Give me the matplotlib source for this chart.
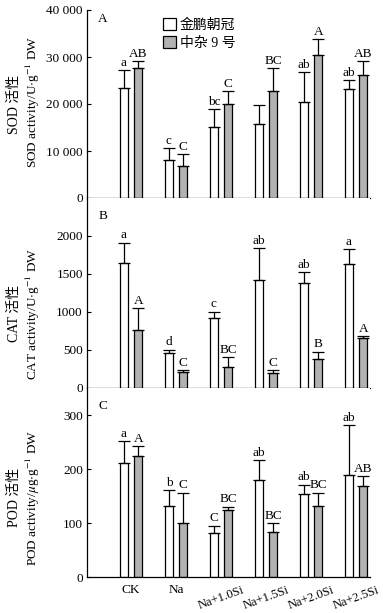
import matplotlib
matplotlib.use('Agg')
import matplotlib.pyplot as plt
import numpy as np
from matplotlib.patches import Patch

plt.rcParams['font.family'] = ['Liberation Serif', 'Noto Sans CJK SC']
plt.rcParams['mathtext.fontset'] = 'stix'

groups = ['CK', 'Na', 'Na+1.0Si', 'Na+1.5Si', 'Na+2.0Si', 'Na+2.5Si']
cultivars = ['金鹏朝冠', '中杂 9 号']

# SOD
sod_w = [23300, 8060, 15120, 15690, 20350, 23180]
sod_w_err = [3900, 2540, 3750, 4030, 6360, 1840]
sod_g = [27560, 6780, 19930, 22690, 30390, 26080]
sod_g_err = [1490, 2550, 2760, 4940, 3460, 2970]
sod_w_lab = ['a', 'c', 'bc', '', 'ab', 'ab']
sod_g_lab = ['AB', 'C', 'C', 'BC', 'A', 'AB']

# CAT
cat_w = [1640, 463, 925, 1427, 1388, 1626]
cat_w_err = [272, 39, 79, 410, 132, 198]
cat_g = [767, 216, 278, 198, 388, 661]
cat_g_err = [286, 22, 127, 35, 88, 22]
cat_w_lab = ['a', 'd', 'c', 'ab', 'ab', 'a']
cat_g_lab = ['A', 'C', 'BC', 'C', 'B', 'A']

# POD
pod_w = [212, 132, 82, 179, 153, 188]
pod_w_err = [39, 29, 13, 37, 18, 93]
pod_g = [225, 100, 125, 84, 132, 169]
pod_g_err = [17, 56, 5, 16, 24, 18]
pod_w_lab = ['a', 'b', 'C', 'ab', 'ab', 'ab']
pod_g_lab = ['A', 'C', 'BC', 'BC', 'BC', 'AB']

panels = [
    ('A', 'SOD', 'U$\\cdot$g$^{-1}$ DW', sod_w, sod_w_err, sod_g, sod_g_err, sod_w_lab, sod_g_lab,
     40000, [0, 10000, 20000, 30000, 40000], ['0', '10 000', '20 000', '30 000', '40 000'], 0.50),
    ('B', 'CAT', 'U$\\cdot$g$^{-1}$ DW', cat_w, cat_w_err, cat_g, cat_g_err, cat_w_lab, cat_g_lab,
     2500, [0, 500, 1000, 1500, 2000], ['0', '500', '1000', '1500', '2000'], 0.39),
    ('C', 'POD', '$\\mu$g$\\cdot$g$^{-1}$ DW', pod_w, pod_w_err, pod_g, pod_g_err, pod_w_lab, pod_g_lab,
     350, [0, 100, 200, 300], ['0', '100', '200', '300'], 0.42),
]

fig = plt.figure(figsize=(3.83, 6.13), dpi=100)
left, width = 87 / 383, 283 / 383
bottoms = [415 / 613, 225 / 613, 36 / 613]
heights = [188 / 613, 190 / 613, 189 / 613]

x = np.arange(len(groups))
bw = 0.18
off = 0.16

for i, (tag, enz, unit, w, we, g, ge, wl, gl, ymax, ticks, tlabels, ymid) in enumerate(panels):
    ax = fig.add_axes([left, bottoms[i], width, heights[i]])
    ax.bar(x - off, w, bw, color='white', edgecolor='black', linewidth=0.9, zorder=2)
    ax.bar(x + off, g, bw, color='#b2b2b2', edgecolor='black', linewidth=0.9, zorder=2)
    ax.errorbar(x - off, w, yerr=[np.zeros(len(w)), we], fmt='none', ecolor='black',
                elinewidth=0.9, capsize=4, capthick=0.9, zorder=3)
    ax.errorbar(x + off, g, yerr=[np.zeros(len(g)), ge], fmt='none', ecolor='black',
                elinewidth=0.9, capsize=4, capthick=0.9, zorder=3)
    for xi, yi, ei, lab in zip(x - off, w, we, wl):
        ax.annotate(lab, (xi, yi + ei), xytext=(0, 1), textcoords='offset points',
                    ha='center', va='bottom', fontsize=9.5)
    for xi, yi, ei, lab in zip(x + off, g, ge, gl):
        ax.annotate(lab, (xi, yi + ei), xytext=(0, 1), textcoords='offset points',
                    ha='center', va='bottom', fontsize=9.5)

    ax.set_xlim(-0.98, 5.31)
    ax.set_ylim(0, ymax)
    ax.set_yticks(ticks)
    ax.set_yticklabels(tlabels, fontsize=9.5)
    ax.tick_params(axis='y', direction='in', length=3, width=0.8, pad=3)
    ax.spines['top'].set_visible(False)
    ax.spines['right'].set_visible(False)
    ax.spines['left'].set_linewidth(0.9)
    ax.spines['bottom'].set_linewidth(0.9)

    ax.text(0.055, 0.95 if i == 0 else 0.905, tag, transform=ax.transAxes, fontsize=9.5,
            ha='center', va='center')
    ax.text(-0.255, ymid, enz + ' 活性', transform=ax.transAxes, rotation=90,
            ha='center', va='center', fontsize=10)
    ax.text(-0.19, ymid + (0.01 if i == 0 else 0), enz + ' activity/' + unit,
            transform=ax.transAxes, rotation=90, ha='center', va='center', fontsize=9.5)

    if i < 2:
        ax.set_xticks([])
    else:
        ax.set_xticks(x)
        ax.set_xticklabels(groups, fontsize=9.5)
        ax.tick_params(axis='x', length=0, pad=5)
        for k, lbl in enumerate(ax.get_xticklabels()):
            if k >= 2:
                lbl.set_rotation(20)
                lbl.set_fontsize(9)
                lbl.set_ha('center')

    if i == 0:
        handles = [Patch(facecolor='white', edgecolor='black', linewidth=0.9),
                   Patch(facecolor='#b2b2b2', edgecolor='black', linewidth=0.9)]
        ax.legend(handles, cultivars, loc='upper left', bbox_to_anchor=(0.24, 1.0),
                  frameon=False, fontsize=10, handlelength=0.9, handleheight=0.9,
                  handletextpad=0.3, labelspacing=0.3, borderaxespad=0.2)

fig.savefig('out.png', dpi=100)
